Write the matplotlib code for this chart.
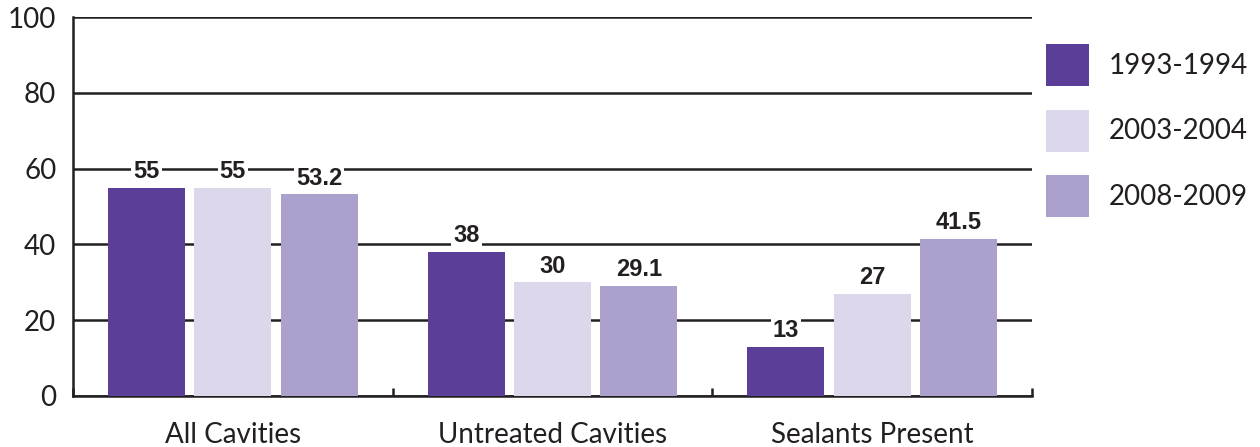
import numpy as np
import matplotlib.pyplot as plt

# Data
categories = ["All Cavities", "Untreated Cavities", "Sealants Present"]
periods = ["1993-1994", "2003-2004", "2008-2009"]
values = {
    "1993-1994": [55, 38, 13],
    "2003-2004": [55, 30, 27],
    "2008-2009": [53.2, 29.1, 41.5],
}
value_labels = {
    "1993-1994": ["55", "38", "13"],
    "2003-2004": ["55", "30", "27"],
    "2008-2009": ["53.2", "29.1", "41.5"],
}
colors = ["#5a3e98", "#dcd7eb", "#aca0cd"]
ink = "#231f20"

plt.rcParams['font.family'] = ['Lato', 'DejaVu Sans']

fig = plt.figure(figsize=(12.6, 4.47), dpi=100)
ax = fig.add_axes([73 / 1260, 1 - 396 / 447, (1032 - 73) / 1260, (396 - 17) / 447])

x = np.arange(len(categories)) + 0.5
width = 0.24
step = 0.27

for i, p in enumerate(periods):
    xs = x + (i - 1) * step
    ax.bar(xs, values[p], width=width, color=colors[i], label=p, zorder=3)
    for xi, v, lab in zip(xs, values[p], value_labels[p]):
        ax.text(xi, v + 1.2, lab, ha='center', va='bottom', fontsize=17,
                fontweight='bold', family='Liberation Sans', color=ink, zorder=4,
                bbox=dict(facecolor='white', edgecolor='none', pad=1.5))

# Axes styling
ax.set_xlim(0, 3)
ax.set_ylim(0, 100)
ax.set_yticks([0, 20, 40, 60, 80, 100])
ax.yaxis.grid(True, color=ink, linewidth=1.8, zorder=1)
ax.set_axisbelow(True)
ax.tick_params(axis='y', length=0, pad=12, labelsize=20, labelcolor=ink)

ax.set_xticks([0, 1, 2, 3])
ax.set_xticklabels([])
ax.tick_params(axis='x', which='major', direction='in', length=6, width=1.8, color=ink)
ax.set_xticks(x, minor=True)
ax.set_xticklabels(categories, minor=True)
ax.tick_params(axis='x', which='minor', length=0, pad=19, labelsize=20, labelcolor=ink)

for s in ['top', 'right']:
    ax.spines[s].set_visible(False)
for s in ['left', 'bottom']:
    ax.spines[s].set_color(ink)
    ax.spines[s].set_linewidth(1.8)

ax.legend(loc='upper left', bbox_to_anchor=(1046 / 1260, 1 - 44 / 447),
          bbox_transform=fig.transFigure, frameon=False, fontsize=20,
          handlelength=1.55, handleheight=1.95, handletextpad=0.7,
          labelspacing=0.85, borderpad=0, borderaxespad=0, labelcolor=ink)

fig.savefig("out.png", dpi=100)
